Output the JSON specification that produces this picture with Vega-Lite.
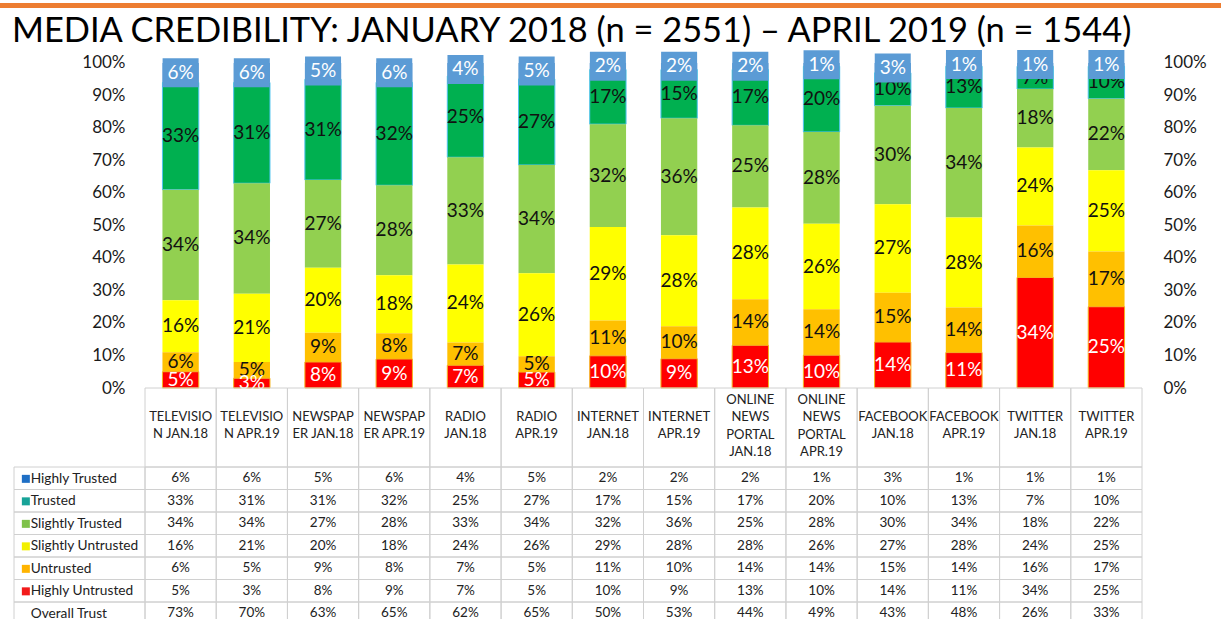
{
  "$schema": "https://vega.github.io/schema/vega-lite/v6.json",
  "padding": {"top": 3, "left": 0, "right": 0, "bottom": 0},
  "background": "white",
  "config": {"view": {"stroke": null}, "font": "Lato"},
  "datasets": {
    "cats": [
      {"cat": "TELEVISION JAN.18", "label": "TELEVISIO\nN JAN.18"},
      {"cat": "TELEVISION APR.19", "label": "TELEVISIO\nN APR.19"},
      {"cat": "NEWSPAPER JAN.18", "label": "NEWSPAP\nER JAN.18"},
      {"cat": "NEWSPAPER APR.19", "label": "NEWSPAP\nER APR.19"},
      {"cat": "RADIO JAN.18", "label": "RADIO\nJAN.18"},
      {"cat": "RADIO APR.19", "label": "RADIO\nAPR.19"},
      {"cat": "INTERNET JAN.18", "label": "INTERNET\nJAN.18"},
      {"cat": "INTERNET APR.19", "label": "INTERNET\nAPR.19"},
      {"cat": "ONLINE NEWS PORTAL JAN.18", "label": "ONLINE\nNEWS\nPORTAL\nJAN.18"},
      {"cat": "ONLINE NEWS PORTAL APR.19", "label": "ONLINE\nNEWS\nPORTAL\nAPR.19"},
      {"cat": "FACEBOOK JAN.18", "label": "FACEBOOK\nJAN.18"},
      {"cat": "FACEBOOK APR.19", "label": "FACEBOOK\nAPR.19"},
      {"cat": "TWITTER JAN.18", "label": "TWITTER\nJAN.18"},
      {"cat": "TWITTER APR.19", "label": "TWITTER\nAPR.19"}
    ],
    "rows": [
      {"series": "Highly Trusted"}, {"series": "Trusted"}, {"series": "Slightly Trusted"},
      {"series": "Slightly Untrusted"}, {"series": "Untrusted"}, {"series": "Highly Untrusted"},
      {"series": "Overall Trust"}
    ],
    "cells": [
      {"cat": "TELEVISION JAN.18", "series": "Highly Trusted", "value": 6},
      {"cat": "TELEVISION JAN.18", "series": "Trusted", "value": 33},
      {"cat": "TELEVISION JAN.18", "series": "Slightly Trusted", "value": 34},
      {"cat": "TELEVISION JAN.18", "series": "Slightly Untrusted", "value": 16},
      {"cat": "TELEVISION JAN.18", "series": "Untrusted", "value": 6},
      {"cat": "TELEVISION JAN.18", "series": "Highly Untrusted", "value": 5},
      {"cat": "TELEVISION JAN.18", "series": "Overall Trust", "value": 73},
      {"cat": "TELEVISION APR.19", "series": "Highly Trusted", "value": 6},
      {"cat": "TELEVISION APR.19", "series": "Trusted", "value": 31},
      {"cat": "TELEVISION APR.19", "series": "Slightly Trusted", "value": 34},
      {"cat": "TELEVISION APR.19", "series": "Slightly Untrusted", "value": 21},
      {"cat": "TELEVISION APR.19", "series": "Untrusted", "value": 5},
      {"cat": "TELEVISION APR.19", "series": "Highly Untrusted", "value": 3},
      {"cat": "TELEVISION APR.19", "series": "Overall Trust", "value": 70},
      {"cat": "NEWSPAPER JAN.18", "series": "Highly Trusted", "value": 5},
      {"cat": "NEWSPAPER JAN.18", "series": "Trusted", "value": 31},
      {"cat": "NEWSPAPER JAN.18", "series": "Slightly Trusted", "value": 27},
      {"cat": "NEWSPAPER JAN.18", "series": "Slightly Untrusted", "value": 20},
      {"cat": "NEWSPAPER JAN.18", "series": "Untrusted", "value": 9},
      {"cat": "NEWSPAPER JAN.18", "series": "Highly Untrusted", "value": 8},
      {"cat": "NEWSPAPER JAN.18", "series": "Overall Trust", "value": 63},
      {"cat": "NEWSPAPER APR.19", "series": "Highly Trusted", "value": 6},
      {"cat": "NEWSPAPER APR.19", "series": "Trusted", "value": 32},
      {"cat": "NEWSPAPER APR.19", "series": "Slightly Trusted", "value": 28},
      {"cat": "NEWSPAPER APR.19", "series": "Slightly Untrusted", "value": 18},
      {"cat": "NEWSPAPER APR.19", "series": "Untrusted", "value": 8},
      {"cat": "NEWSPAPER APR.19", "series": "Highly Untrusted", "value": 9},
      {"cat": "NEWSPAPER APR.19", "series": "Overall Trust", "value": 65},
      {"cat": "RADIO JAN.18", "series": "Highly Trusted", "value": 4},
      {"cat": "RADIO JAN.18", "series": "Trusted", "value": 25},
      {"cat": "RADIO JAN.18", "series": "Slightly Trusted", "value": 33},
      {"cat": "RADIO JAN.18", "series": "Slightly Untrusted", "value": 24},
      {"cat": "RADIO JAN.18", "series": "Untrusted", "value": 7},
      {"cat": "RADIO JAN.18", "series": "Highly Untrusted", "value": 7},
      {"cat": "RADIO JAN.18", "series": "Overall Trust", "value": 62},
      {"cat": "RADIO APR.19", "series": "Highly Trusted", "value": 5},
      {"cat": "RADIO APR.19", "series": "Trusted", "value": 27},
      {"cat": "RADIO APR.19", "series": "Slightly Trusted", "value": 34},
      {"cat": "RADIO APR.19", "series": "Slightly Untrusted", "value": 26},
      {"cat": "RADIO APR.19", "series": "Untrusted", "value": 5},
      {"cat": "RADIO APR.19", "series": "Highly Untrusted", "value": 5},
      {"cat": "RADIO APR.19", "series": "Overall Trust", "value": 65},
      {"cat": "INTERNET JAN.18", "series": "Highly Trusted", "value": 2},
      {"cat": "INTERNET JAN.18", "series": "Trusted", "value": 17},
      {"cat": "INTERNET JAN.18", "series": "Slightly Trusted", "value": 32},
      {"cat": "INTERNET JAN.18", "series": "Slightly Untrusted", "value": 29},
      {"cat": "INTERNET JAN.18", "series": "Untrusted", "value": 11},
      {"cat": "INTERNET JAN.18", "series": "Highly Untrusted", "value": 10},
      {"cat": "INTERNET JAN.18", "series": "Overall Trust", "value": 50},
      {"cat": "INTERNET APR.19", "series": "Highly Trusted", "value": 2},
      {"cat": "INTERNET APR.19", "series": "Trusted", "value": 15},
      {"cat": "INTERNET APR.19", "series": "Slightly Trusted", "value": 36},
      {"cat": "INTERNET APR.19", "series": "Slightly Untrusted", "value": 28},
      {"cat": "INTERNET APR.19", "series": "Untrusted", "value": 10},
      {"cat": "INTERNET APR.19", "series": "Highly Untrusted", "value": 9},
      {"cat": "INTERNET APR.19", "series": "Overall Trust", "value": 53},
      {"cat": "ONLINE NEWS PORTAL JAN.18", "series": "Highly Trusted", "value": 2},
      {"cat": "ONLINE NEWS PORTAL JAN.18", "series": "Trusted", "value": 17},
      {"cat": "ONLINE NEWS PORTAL JAN.18", "series": "Slightly Trusted", "value": 25},
      {"cat": "ONLINE NEWS PORTAL JAN.18", "series": "Slightly Untrusted", "value": 28},
      {"cat": "ONLINE NEWS PORTAL JAN.18", "series": "Untrusted", "value": 14},
      {"cat": "ONLINE NEWS PORTAL JAN.18", "series": "Highly Untrusted", "value": 13},
      {"cat": "ONLINE NEWS PORTAL JAN.18", "series": "Overall Trust", "value": 44},
      {"cat": "ONLINE NEWS PORTAL APR.19", "series": "Highly Trusted", "value": 1},
      {"cat": "ONLINE NEWS PORTAL APR.19", "series": "Trusted", "value": 20},
      {"cat": "ONLINE NEWS PORTAL APR.19", "series": "Slightly Trusted", "value": 28},
      {"cat": "ONLINE NEWS PORTAL APR.19", "series": "Slightly Untrusted", "value": 26},
      {"cat": "ONLINE NEWS PORTAL APR.19", "series": "Untrusted", "value": 14},
      {"cat": "ONLINE NEWS PORTAL APR.19", "series": "Highly Untrusted", "value": 10},
      {"cat": "ONLINE NEWS PORTAL APR.19", "series": "Overall Trust", "value": 49},
      {"cat": "FACEBOOK JAN.18", "series": "Highly Trusted", "value": 3},
      {"cat": "FACEBOOK JAN.18", "series": "Trusted", "value": 10},
      {"cat": "FACEBOOK JAN.18", "series": "Slightly Trusted", "value": 30},
      {"cat": "FACEBOOK JAN.18", "series": "Slightly Untrusted", "value": 27},
      {"cat": "FACEBOOK JAN.18", "series": "Untrusted", "value": 15},
      {"cat": "FACEBOOK JAN.18", "series": "Highly Untrusted", "value": 14},
      {"cat": "FACEBOOK JAN.18", "series": "Overall Trust", "value": 43},
      {"cat": "FACEBOOK APR.19", "series": "Highly Trusted", "value": 1},
      {"cat": "FACEBOOK APR.19", "series": "Trusted", "value": 13},
      {"cat": "FACEBOOK APR.19", "series": "Slightly Trusted", "value": 34},
      {"cat": "FACEBOOK APR.19", "series": "Slightly Untrusted", "value": 28},
      {"cat": "FACEBOOK APR.19", "series": "Untrusted", "value": 14},
      {"cat": "FACEBOOK APR.19", "series": "Highly Untrusted", "value": 11},
      {"cat": "FACEBOOK APR.19", "series": "Overall Trust", "value": 48},
      {"cat": "TWITTER JAN.18", "series": "Highly Trusted", "value": 1},
      {"cat": "TWITTER JAN.18", "series": "Trusted", "value": 7},
      {"cat": "TWITTER JAN.18", "series": "Slightly Trusted", "value": 18},
      {"cat": "TWITTER JAN.18", "series": "Slightly Untrusted", "value": 24},
      {"cat": "TWITTER JAN.18", "series": "Untrusted", "value": 16},
      {"cat": "TWITTER JAN.18", "series": "Highly Untrusted", "value": 34},
      {"cat": "TWITTER JAN.18", "series": "Overall Trust", "value": 26},
      {"cat": "TWITTER APR.19", "series": "Highly Trusted", "value": 1},
      {"cat": "TWITTER APR.19", "series": "Trusted", "value": 10},
      {"cat": "TWITTER APR.19", "series": "Slightly Trusted", "value": 22},
      {"cat": "TWITTER APR.19", "series": "Slightly Untrusted", "value": 25},
      {"cat": "TWITTER APR.19", "series": "Untrusted", "value": 17},
      {"cat": "TWITTER APR.19", "series": "Highly Untrusted", "value": 25},
      {"cat": "TWITTER APR.19", "series": "Overall Trust", "value": 33}
    ]
  },
  "columns": 4,
  "spacing": 0,
  "align": "each",
  "bounds": "flush",
  "resolve": {"scale": {"x": "independent", "y": "independent", "fill": "independent", "color": "independent"}, "legend": {"fill": "independent"}},
  "concat": [
    {"width": 14, "height": 5, "view": {"fill": "#ED7D31", "stroke": null}, "data": {"values": []}, "mark": "point",
     "title": {"text": "MEDIA CREDIBILITY: JANUARY 2018 (n = 2551) – APRIL 2019 (n = 1544)", "orient": "bottom", "anchor": "start", "frame": "group", "font": "Lato", "fontSize": 34.4, "fontWeight": "normal", "color": "#000000", "offset": 7, "dx": 12}},
    {"width": 131, "height": 5, "view": {"fill": "#ED7D31", "stroke": null}, "data": {"values": []}, "mark": "point"},
    {"width": 997, "height": 5, "view": {"fill": "#ED7D31", "stroke": null}, "data": {"values": []}, "mark": "point"},
    {"width": 79, "height": 5, "view": {"fill": "#ED7D31", "stroke": null}, "data": {"values": []}, "mark": "point"},

    {"width": 1, "height": 1, "data": {"values": []}, "mark": "point"},
    {"width": 1, "height": 1, "data": {"values": []}, "mark": "point"},
    {
      "width": 997, "height": 380,
      "data": {"name": "cells"},
      "transform": [
        {"filter": "datum.series !== 'Overall Trust'"},
        {"calculate": "indexof(['Highly Untrusted','Untrusted','Slightly Untrusted','Slightly Trusted','Trusted','Highly Trusted'], datum.series)", "as": "ord"},
        {"stack": "value", "groupby": ["cat"], "sort": [{"field": "ord", "order": "ascending"}], "offset": "normalize", "as": ["v0", "v1"]},
        {"calculate": "(datum.v0 + datum.v1) / 2", "as": "mid"},
        {"calculate": "datum.value + '%'", "as": "lbl"}
      ],
      "encoding": {
        "x": {"field": "cat", "type": "nominal", "sort": null, "scale": {"paddingInner": 0.49, "paddingOuter": 0.245}, "axis": null}
      },
      "layer": [
        {
          "mark": {"type": "bar", "strokeWidth": 1},
          "encoding": {
            "y": {"field": "v0", "type": "quantitative", "scale": {"domain": [0, 1.1692], "nice": false, "zero": true},
                  "axis": {"orient": "left", "values": [0, 0.1, 0.2, 0.3, 0.4, 0.5, 0.6, 0.7, 0.8, 0.9, 1], "format": ".0%", "title": null, "ticks": false, "domain": false, "grid": false, "labelPadding": 20, "labelFont": "Lato", "labelFontSize": 17, "labelColor": "#1a1a1a"}},
            "y2": {"field": "v1"},
            "color": {"field": "series", "type": "nominal",
                      "scale": {"domain": ["Highly Trusted", "Trusted", "Slightly Trusted", "Slightly Untrusted", "Untrusted", "Highly Untrusted"],
                                "range": ["#5B9BD5", "#00B050", "#92D050", "#FFFF00", "#FFC000", "#FF0000"]},
                      "legend": null},
            "stroke": {"condition": [{"test": "datum.series === 'Trusted'", "value": "#4fc3ee"}, {"test": "datum.series === 'Highly Untrusted'", "value": "#f5b41e"}], "value": "transparent"}
          }
        },
        {
          "transform": [{"filter": "datum.series !== 'Highly Trusted'"}],
          "mark": {"type": "text", "fontSize": 19, "font": "Lato", "baseline": "middle", "align": "center"},
          "encoding": {
            "y": {"field": "mid", "type": "quantitative", "scale": {"domain": [0, 1.1692], "nice": false, "zero": true},
                  "axis": {"orient": "right", "values": [0, 0.1, 0.2, 0.3, 0.4, 0.5, 0.6, 0.7, 0.8, 0.9, 1], "format": ".0%", "title": null, "ticks": false, "domain": false, "grid": false, "labelPadding": 21, "labelFont": "Lato", "labelFontSize": 17, "labelColor": "#1a1a1a"}},
            "text": {"field": "lbl"},
            "color": {"condition": {"test": "datum.series === 'Highly Untrusted'", "value": "#ffffff"}, "value": "#111111"}
          }
        },
        {
          "transform": [{"filter": "datum.series === 'Highly Trusted'"}],
          "mark": {"type": "tick", "size": 36, "thickness": 29, "color": "#5B9BD5", "opacity": 1},
          "encoding": {
            "y": {"field": "mid", "type": "quantitative", "scale": {"domain": [0, 1.1692], "nice": false, "zero": true}, "axis": null}
          }
        },
        {
          "transform": [{"filter": "datum.series === 'Highly Trusted'"}],
          "mark": {"type": "text", "fontSize": 19, "font": "Lato", "baseline": "middle", "align": "center", "color": "#ffffff"},
          "encoding": {
            "y": {"field": "mid", "type": "quantitative", "scale": {"domain": [0, 1.1692], "nice": false, "zero": true}, "axis": null},
            "text": {"field": "lbl"}
          }
        }
      ],
      "resolve": {"axis": {"y": "independent"}}
    },
    {"width": 1, "height": 1, "data": {"values": []}, "mark": "point"},

    {"width": 1, "height": 1, "data": {"values": []}, "mark": "point"},
    {"width": 1, "height": 1, "data": {"values": []}, "mark": "point"},
    {
      "width": 997, "height": 79,
      "data": {"name": "cats"},
      "transform": [{"calculate": "split(datum.label, '\\n')", "as": "lines"}],
      "encoding": {
        "x": {"field": "cat", "type": "nominal", "sort": null, "scale": {"paddingInner": 0, "paddingOuter": 0}, "axis": null}
      },
      "layer": [
        {"mark": {"type": "rect", "fill": "transparent", "stroke": "#d0d0d0", "strokeWidth": 1}},
        {"transform": [{"filter": "length(datum.lines) <= 2"}],
         "mark": {"type": "text", "font": "Lato", "fontSize": 13, "lineHeight": 17.5, "color": "#222222", "align": "center", "baseline": "middle", "dy": -11},
         "encoding": {"text": {"field": "lines"}}},
        {"transform": [{"filter": "length(datum.lines) > 2"}],
         "mark": {"type": "text", "font": "Lato", "fontSize": 13, "lineHeight": 17.5, "color": "#222222", "align": "center", "baseline": "middle", "dy": -28},
         "encoding": {"text": {"field": "lines"}}}
      ]
    },
    {"width": 1, "height": 1, "data": {"values": []}, "mark": "point"},

    {"width": 1, "height": 1, "data": {"values": []}, "mark": "point"},
    {
      "width": 131, "height": 157.5,
      "data": {"name": "rows"},
      "mark": {"type": "rect", "fillOpacity": 0, "stroke": "#d0d0d0", "strokeWidth": 1},
      "encoding": {
        "y": {"field": "series", "type": "nominal", "sort": null, "scale": {"paddingInner": 0, "paddingOuter": 0}, "axis": null},
        "fill": {"field": "series", "type": "nominal",
                 "scale": {"domain": ["Highly Trusted", "Trusted", "Slightly Trusted", "Slightly Untrusted", "Untrusted", "Highly Untrusted", "Overall Trust"],
                           "range": ["#1f6fc5", "#17a398", "#7fc24a", "#f2f000", "#ffb400", "#f21a1a", "transparent"]},
                 "legend": {"orient": "top-left", "offset": 5, "padding": 0, "title": null, "symbolType": "square", "symbolSize": 64, "symbolStrokeWidth": 0, "symbolOpacity": 1,
                            "labelFont": "Lato", "labelFontSize": 13.7, "labelColor": "#222222", "labelOffset": -2, "rowPadding": 7.5, "labelLimit": 300,
                            "encode": {"symbols": {"update": {"fillOpacity": {"value": 1}, "opacity": {"value": 1}}}}}}
      }
    },
    {
      "width": 997, "height": 157.5,
      "data": {"name": "cells"},
      "transform": [{"calculate": "datum.value + '%'", "as": "lbl"}],
      "encoding": {
        "x": {"field": "cat", "type": "nominal", "sort": null, "scale": {"paddingInner": 0, "paddingOuter": 0}, "axis": null},
        "y": {"field": "series", "type": "nominal", "sort": null, "scale": {"paddingInner": 0, "paddingOuter": 0}, "axis": null}
      },
      "layer": [
        {"mark": {"type": "rect", "fill": "transparent", "stroke": "#d0d0d0", "strokeWidth": 1}},
        {"mark": {"type": "text", "font": "Lato", "fontSize": 13.5, "color": "#222222", "align": "center", "baseline": "middle"},
         "encoding": {"text": {"field": "lbl"}}}
      ]
    },
    {"width": 1, "height": 1, "data": {"values": []}, "mark": "point"}
  ]
}
